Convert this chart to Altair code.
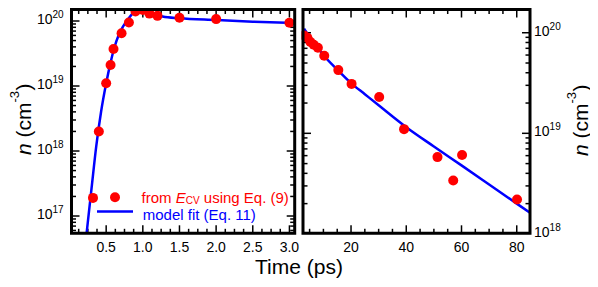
import altair as alt
import pandas as pd

FONT = "Liberation Sans"
RED = "#ff0000"
BLUE = "#0000ff"

# ---------------- data ----------------
left_t = [0.32, 0.40, 0.50, 0.56, 0.60, 0.71, 0.81, 0.90, 1.00, 1.09, 1.20, 1.50, 2.00, 3.00]
left_n = [1.9e17, 2.0e18, 1.1e19, 2.1e19, 3.7e19, 6.5e19, 9.5e19, 1.40e20, 1.48e20,
          1.30e20, 1.20e20, 1.12e20, 1.07e20, 9.4e19]

left_fit_t = [0.20, 0.30, 0.364, 0.43, 0.50, 0.56, 0.614, 0.67, 0.727, 0.80, 0.864, 0.92,
              0.978, 1.05, 1.136, 1.27, 1.50, 2.00, 2.50, 3.07]
left_fit_n = [2.5e16, 2.63e17, 1.17e18, 3.98e18, 1.10e19, 2.29e19, 3.98e19, 6.03e19, 8.13e19,
              1.07e20, 1.32e20, 1.41e20, 1.45e20, 1.40e20, 1.29e20, 1.17e20, 1.10e20,
              1.035e20, 9.77e19, 9.33e19]

right_t = [3.0, 4.2, 5.3, 6.5, 8.0, 10.3, 15.4, 20.2, 30.2, 39.2, 51.3, 57.0, 60.2, 80.1]
right_n = [9.4e19, 8.9e19, 8.1e19, 7.6e19, 7.1e19, 5.9e19, 4.25e19, 3.1e19, 2.3e19,
           1.1e19, 5.8e18, 3.4e18, 6.1e18, 2.2e18]

right_fit_t = [3, 5, 8, 10, 15, 20, 25, 30, 40, 50, 60, 70, 80, 84.8]
right_fit_n = [1.10e20, 9.1e19, 7.1e19, 6.0e19, 4.3e19, 3.16e19, 2.45e19, 1.9e19, 1.15e19,
               7.4e18, 4.8e18, 3.1e18, 2.0e18, 1.62e18]

# tick values / labels
left_x_major = [0.5, 1.0, 1.5, 2.0, 2.5, 3.0]
left_x_labels = ["0.5", "1.0", "1.5", "2.0", "2.5", "3.0"]
left_x_minor = [k * 0.125 for k in range(1, 25) if k % 4 != 0]
right_x_major = [20, 40, 60, 80]
right_x_labels = ["20", "40", "60", "80"]
right_x_minor = [k for k in range(5, 85, 5) if k % 20 != 0]
left_y_major = [1e17, 1e18, 1e19, 1e20]
left_y_exp = ["17", "18", "19", "20"]
right_y_major = [1e18, 1e19, 1e20]
right_y_exp = ["18", "19", "20"]

# ---------------- geometry ----------------
W, H = 458.5, 223.8
LX1 = 223.2      # right edge of left panel
RX0 = 231.5      # left edge of right panel

LYD = [10 ** 16.734, 10 ** 20.177]
RYD = [10 ** 18.006, 10 ** 20.231]
left_x = alt.Scale(domain=[0.027, 3.072], range=[0, LX1], nice=False, zero=False)
left_y = alt.Scale(type="log", domain=LYD, nice=False)
right_x = alt.Scale(domain=[2.61, 84.8], range=[RX0, W], nice=False, zero=False)
right_y = alt.Scale(type="log", domain=RYD, nice=False)

MAJ, MIN = 8, 4.5


def minors(lo, hi):
    out = []
    for d in range(15, 22):
        for k in range(2, 10):
            v = k * 10.0 ** d
            if lo <= v <= hi:
                out.append(v)
    return out


def yticks(vals, ys, xa, xb):
    return alt.Chart(pd.DataFrame({"v": vals})).mark_rule(color="black", strokeWidth=1.5).encode(
        y=alt.Y("v:Q", scale=ys, axis=None), x=alt.value(xa), x2=alt.value(xb))


def xticks(vals, xs, ya, yb):
    return alt.Chart(pd.DataFrame({"v": vals})).mark_rule(color="black", strokeWidth=1.5).encode(
        x=alt.X("v:Q", scale=xs, axis=None), y=alt.value(ya), y2=alt.value(yb))


def ticks(xs, ys, x0, x1, xmaj, xmin, ymaj, ymin):
    out = []
    for vals, L in ((ymaj, MAJ), (ymin, MIN)):
        out.append(yticks(vals, ys, x0, x0 + L))
        out.append(yticks(vals, ys, x1 - L, x1))
    for vals, L in ((xmaj, MAJ), (xmin, MIN)):
        out.append(xticks(vals, xs, H, H - L))
        out.append(xticks(vals, xs, 0, L))
    return out


dummy = pd.DataFrame({"a": [0]})


def txt(text, x, y, size=15, color="black", **kw):
    return alt.Chart(dummy).mark_text(text=text, font=FONT, fontSize=size, color=color, **kw).encode(
        x=alt.value(x), y=alt.value(y))


def ylabels(vals, exps, ys, x10, xexp, align10):
    df = pd.DataFrame({"v": vals, "e": exps})
    base = alt.Chart(df)
    ten = base.mark_text(text="10", font=FONT, fontSize=14, align=align10, baseline="middle", dy=-1).encode(
        y=alt.Y("v:Q", scale=ys, axis=None), x=alt.value(x10))
    ex = base.mark_text(font=FONT, fontSize=10, align="left", baseline="middle", dy=-6).encode(
        y=alt.Y("v:Q", scale=ys, axis=None), x=alt.value(xexp), text="e:N")
    return [ten, ex]


def xlabels(vals, labs, xs):
    df = pd.DataFrame({"v": vals, "s": labs})
    return alt.Chart(df).mark_text(font=FONT, fontSize=14, baseline="middle").encode(
        x=alt.X("v:Q", scale=xs, axis=None), y=alt.value(238.5), text="s:N")


# ---------------- left panel ----------------
ldf = pd.DataFrame({"t": left_t, "n": left_n})
lfit = pd.DataFrame({"t": left_fit_t, "n": left_fit_n})
left_layers = ticks(left_x, left_y, 0, LX1, left_x_major, left_x_minor, left_y_major, minors(*LYD))
left_layers += [
    alt.Chart(lfit).mark_line(color=BLUE, strokeWidth=2.5, interpolate="monotone", clip=True).encode(
        x=alt.X("t:Q", scale=left_x, axis=None), y=alt.Y("n:Q", scale=left_y, axis=None)),
    alt.Chart(ldf).mark_circle(color=RED, size=100, opacity=1).encode(
        x=alt.X("t:Q", scale=left_x, axis=None), y=alt.Y("n:Q", scale=left_y, axis=None)),
    xlabels(left_x_major, left_x_labels, left_x),
]
left_layers += ylabels(left_y_major, left_y_exp, left_y, -19, -19, "right")
left = alt.layer(*left_layers)

# ---------------- right panel ----------------
rdf = pd.DataFrame({"t": right_t, "n": right_n})
rfit = pd.DataFrame({"t": right_fit_t, "n": right_fit_n})
right_layers = ticks(right_x, right_y, RX0, W, right_x_major, right_x_minor, right_y_major[1:], minors(*RYD))
right_layers += [
    alt.Chart(rfit).mark_line(color=BLUE, strokeWidth=2.5, interpolate="monotone", clip=True).encode(
        x=alt.X("t:Q", scale=right_x, axis=None), y=alt.Y("n:Q", scale=right_y, axis=None)),
    alt.Chart(rdf).mark_circle(color=RED, size=100, opacity=1).encode(
        x=alt.X("t:Q", scale=right_x, axis=None), y=alt.Y("n:Q", scale=right_y, axis=None)),
    xlabels(right_x_major, right_x_labels, right_x),
]
right_layers += ylabels(right_y_major, right_y_exp, right_y, 462.5, 478.1, "left")
right = alt.layer(*right_layers)

# ---------------- decorations: gap mask, frames, legend, titles ----------------
deco = [
    alt.Chart(dummy).mark_rect(color="white").encode(
        x=alt.value(LX1 + 1.5), x2=alt.value(RX0 - 1.5), y=alt.value(-2), y2=alt.value(H + 2)),
    alt.Chart(dummy).mark_rect(fillOpacity=0, stroke="black", strokeWidth=3).encode(
        x=alt.value(0), x2=alt.value(LX1), y=alt.value(0), y2=alt.value(H)),
    alt.Chart(dummy).mark_rect(fillOpacity=0, stroke="black", strokeWidth=3).encode(
        x=alt.value(RX0), x2=alt.value(W), y=alt.value(0), y2=alt.value(H)),
    # legend
    alt.Chart(dummy).mark_circle(color=RED, size=100, opacity=1).encode(
        x=alt.value(43.5), y=alt.value(187.8)),
    alt.Chart(dummy).mark_rule(color=BLUE, strokeWidth=2.5).encode(
        x=alt.value(25.5), x2=alt.value(61.5), y=alt.value(202)),
    txt("from", 70, 193.5, 15, RED, align="left", baseline="alphabetic"),
    txt("E", 104.2, 193.5, 15, RED, align="left", baseline="alphabetic", fontStyle="italic"),
    txt("CV", 114.2, 194.8, 10, RED, align="left", baseline="alphabetic"),
    txt("using Eq. (9)", 132.3, 193.5, 15, RED, align="left", baseline="alphabetic"),
    txt("model fit (Eq. 11)", 71.2, 210.8, 15, BLUE, align="left", baseline="alphabetic"),
    # x title
    txt("Time (ps)", 227.5, 264.5, 21, align="center", baseline="alphabetic"),
]

# rotated y titles:  n (cm^-3)
for bx, cy in ((-40.5, 109.5), (516.0, 110.5)):
    y0 = cy + 36
    deco += [
        txt("n", bx, y0, 21, align="left", baseline="alphabetic", angle=270, fontStyle="italic"),
        txt("(cm", bx, y0 - 17.5, 21, align="left", baseline="alphabetic", angle=270),
        txt("-3", bx - 12, y0 - 52.5, 13, align="left", baseline="alphabetic", angle=270),
        txt(")", bx, y0 - 64.4, 21, align="left", baseline="alphabetic", angle=270),
    ]

chart = alt.layer(
    alt.layer(left, right).resolve_scale(x="independent", y="independent"),
    *deco,
).properties(
    width=W,
    height=H,
    padding={"left": 63.5, "top": 1.5, "right": 60, "bottom": 44.7},
    autosize=alt.AutoSizeParams(type="none"),
).configure_view(stroke=None).configure(background="white")

chart.save("out.html", embed_options={"renderer": "svg", "actions": False})
